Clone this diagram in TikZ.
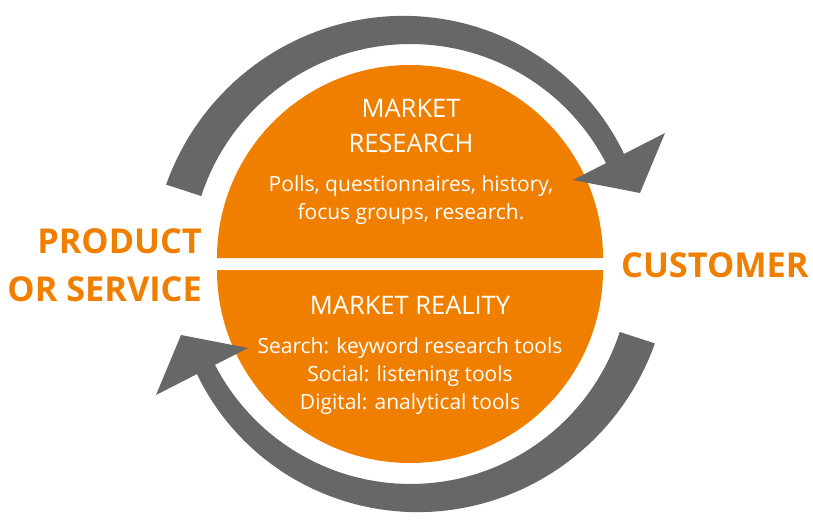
\documentclass[tikz,border=0pt]{standalone}
\usepackage{fontspec}
\setmainfont{Open Sans}
\newfontfamily\boldsans{Open Sans Bold}
\definecolor{mkorange}{RGB}{240,127,0}
\definecolor{arrgray}{RGB}{103,103,103}
\begin{document}
\begin{tikzpicture}[x=1pt,y=1pt,
  half/.style={fill=mkorange},
  arrowbody/.style={fill=arrgray},
  title/.style={text=white,font=\fontsize{25.5}{30}\selectfont,anchor=base,inner sep=0pt},
  body/.style={text=white,font=\fontsize{21}{26}\selectfont,anchor=base,inner sep=0pt},
  side/.style={text=mkorange,font=\boldsans\fontsize{34.3}{40}\selectfont,inner sep=0pt}]
\useasboundingbox (0,0) rectangle (813,520);
% circle halves
\fill[half] (217,262) arc (180:0:193) -- cycle;
\fill[half] (603,250) arc (0:-180:193) -- cycle;
% arrows (second is the first turned half a turn)
\foreach \rot in {0,180}{
\begin{scope}[rotate around={\rot:(410.5,256)}]
\fill[arrowbody] plot[domain=162:25,samples=70] ({410.5+220*cos(\x)},{256+220*sin(\x)})
  -- plot[domain=25:162,samples=70] ({410.5+(240+(\x-25)*0.124)*cos(\x)},{256+(240+(\x-25)*0.124)*sin(\x)}) -- cycle;
\fill[arrowbody] (573,340) -- (665,387) -- (640,327) -- cycle;
\end{scope}}
% texts
\node[title] (t1) at (411,402) {MARKET};
\node[title] (t2) at (411,367) {RESEARCH};
\node[body] (t3) at (411,328) {Polls, questionnaires, history,};
\node[body] (t4) at (411,300) {focus groups, research.};
\node[title] (t5) at (410,206) {MARKET REALITY};
\node[body] (t6) at (410,167) {Search: keyword research tools};
\node[body] (t7) at (410,139) {Social: listening tools};
\node[body] (t8) at (410,111) {Digital: analytical tools};
\node[side,anchor=base east] (p1) at (202,267) {PRODUCT};
\node[side,anchor=base east] (p2) at (202,219) {OR SERVICE};
\node[side,anchor=base west] (c1) at (621,243) {CUSTOMER};
\end{tikzpicture}
\end{document}
